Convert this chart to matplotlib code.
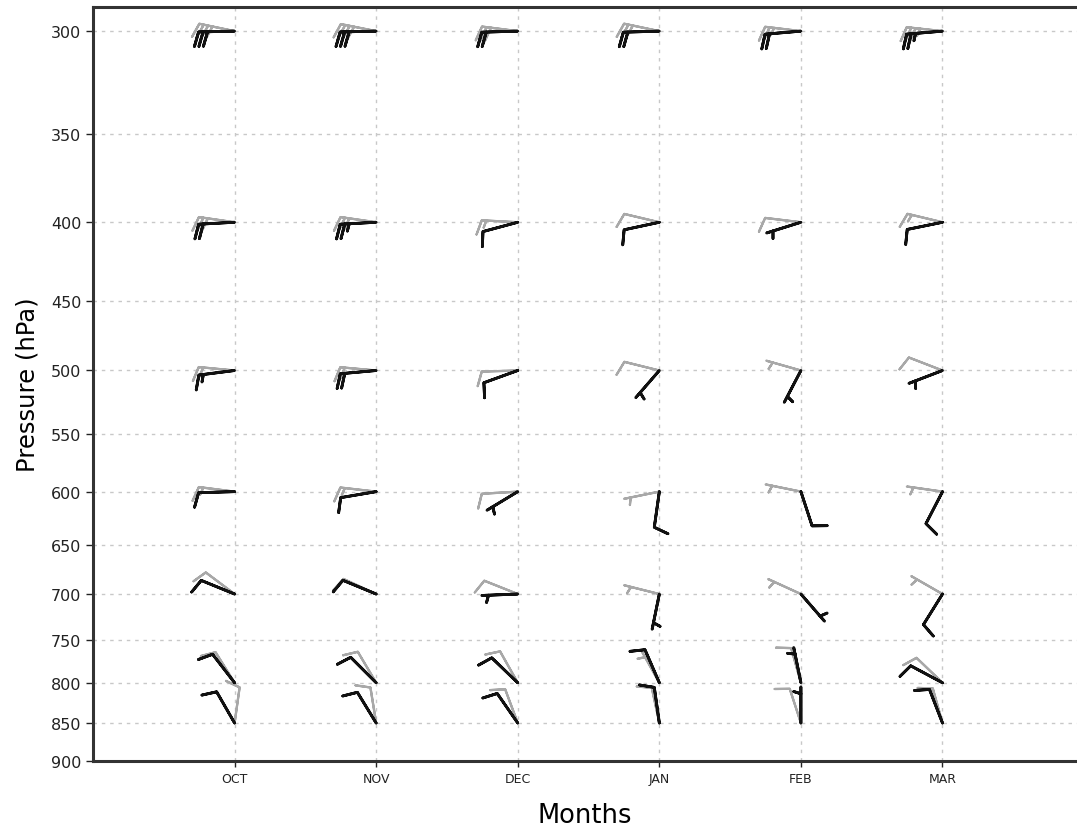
import numpy as np
import matplotlib
matplotlib.use("Agg")
import matplotlib.pyplot as plt
from matplotlib.ticker import FixedLocator, NullLocator, FixedFormatter

# --------- DATA ---------
months = ["OCT", "NOV", "DEC", "JAN", "FEB", "MAR"]
levels = [300, 400, 500, 600, 700, 800, 850]
yticks = [300, 350, 400, 450, 500, 550, 600, 650, 700, 750, 800, 850, 900]

# gray barbs (rows = levels, cols = months)
u_gray = [
    [39.2, 39.2, 29.8, 29.4, 24.8, 34.8],
    [29.7, 29.7, 15.0, 9.7, 9.9, 14.6],
    [19.9, 19.9, 10.0, 9.7, 6.7, 9.3],
    [14.9, 14.9, 10.0, 4.9, 4.9, 4.9],
    [8.0, 9.1, 9.3, 4.8, 4.6, 6.1],
    [5.3, 5.1, 4.9, 3.4, 2.7, 7.2],
    [-1.4, 1.6, 3.5, 2.1, 3.1, 2.7],
]
v_gray = [
    [-8.2, -7.8, -3.8, -6.2, -3.0, -3.8],
    [-4.3, -4.3, -0.8, -2.3, -1.2, -3.5],
    [-1.9, -1.8, 0.3, -2.4, -1.9, -3.6],
    [-1.9, -1.7, 0.6, 1.0, -1.0, -0.7],
    [-6.0, -4.2, -3.7, -1.2, -2.1, -3.5],
    [-8.5, -8.6, -8.7, -6.1, -9.6, -6.9],
    [-9.9, -9.9, -9.4, -9.8, -9.5, -9.6],
]

# black barbs
u_black = [
    [30.0, 30.0, 20.0, 20.0, 19.9, 24.9],
    [20.0, 25.0, 9.7, 9.8, 4.8, 9.8],
    [14.9, 19.9, 9.4, 3.3, 2.3, 4.7],
    [10.0, 11.8, 4.3, 1.4, -3.1, 4.6],
    [9.3, 9.2, 5.0, 1.0, -3.3, 5.3],
    [6.1, 7.1, 7.2, 4.0, 1.0, 8.8],
    [5.0, 5.2, 5.7, 1.4, 0.0, 3.6],
]
v_black = [
    [0.7, 0.7, 0.6, 0.6, 1.7, 2.1],
    [1.1, 1.4, 2.6, 2.1, 1.5, 2.0],
    [1.9, 1.8, 3.4, 3.8, 4.4, 1.8],
    [0.3, 2.0, 2.6, 9.9, 9.5, 8.9],
    [-3.8, -3.8, 0.2, 4.9, 3.8, 8.5],
    [-7.9, -7.1, -6.9, -9.2, -4.9, -4.7],
    [-8.7, -8.5, -8.2, -9.9, -5.0, -9.3],
]

# --------- PLOT ---------
fig = plt.figure(figsize=(10.77, 8.29), dpi=100)
ax = fig.add_axes([93 / 1077, 1 - 762 / 829, 1 - 93 / 1077, (762 - 8) / 829])

xpos = np.arange(1, len(months) + 1)
X, P = np.meshgrid(xpos, levels)

ax.set_yscale("log")
ax.set_ylim(900, 289.3)
ax.set_xlim(0, 6.95)

ax.barbs(X, P, np.array(u_gray), np.array(v_gray), length=7.2, flip_barb=True,
         color="#a8a8a8", linewidth=1.6, zorder=3)
ax.barbs(X, P, np.array(u_black), np.array(v_black), length=7.2, flip_barb=True,
         color="#111111", linewidth=2.0, zorder=4)

ax.yaxis.set_major_locator(FixedLocator(yticks))
ax.yaxis.set_major_formatter(FixedFormatter([str(t) for t in yticks]))
ax.yaxis.set_minor_locator(NullLocator())
ax.set_xticks(xpos)
ax.set_xticklabels(months, fontsize=9)
ax.tick_params(axis="y", labelsize=11.5, length=5, width=1, colors="#222222")
ax.tick_params(axis="x", length=4, width=1, pad=4, colors="#222222")

ax.grid(True, color="#c8c8c8", linestyle=(0, (2.5, 3.5)), linewidth=1)
ax.set_axisbelow(True)

for side in ["left", "bottom", "top"]:
    ax.spines[side].set_linewidth(2.2)
    ax.spines[side].set_color("#333333")
ax.spines["right"].set_visible(False)

ax.set_xlabel("Months", fontsize=18.5, labelpad=12)
ax.set_ylabel("Pressure (hPa)", fontsize=17.5, labelpad=8)

plt.savefig("out.png", dpi=100)
